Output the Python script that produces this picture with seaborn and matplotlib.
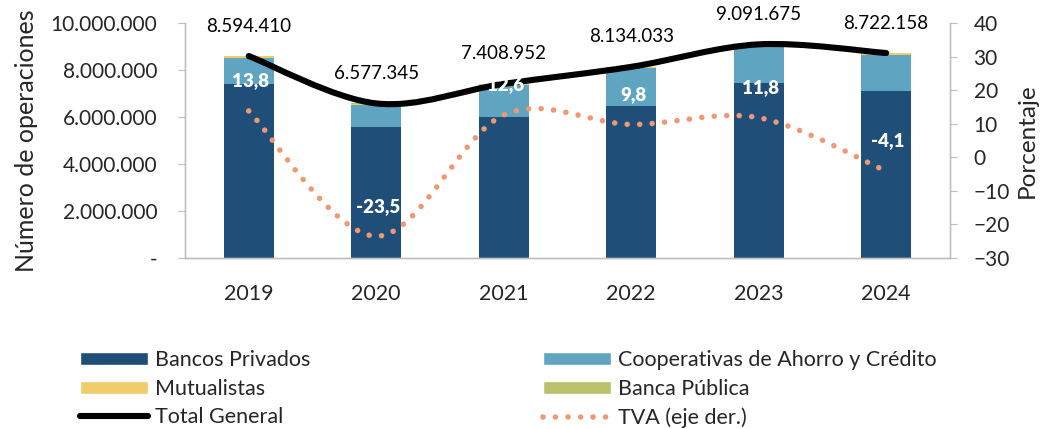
import numpy as np
import pandas as pd
import matplotlib
matplotlib.use("Agg")
import matplotlib.pyplot as plt
import seaborn as sns
from matplotlib.path import Path
from matplotlib.patches import PathPatch, Patch
from matplotlib.lines import Line2D
from matplotlib.ticker import FuncFormatter, FixedLocator

# ---------------- data ----------------
years = ["2019", "2020", "2021", "2022", "2023", "2024"]
bancos_privados = [7400000, 5570000, 6010000, 6470000, 7440000, 7110000]
cooperativas = [1114000, 954000, 1340000, 1605000, 1597000, 1542000]
mutualistas = [68000, 45000, 50000, 50000, 45000, 60000]
banca_publica = [12000, 8000, 9000, 9000, 9000, 10000]
total_general = [8594410, 6577345, 7408952, 8134033, 9091675, 8722158]
tva = [13.8, -23.5, 12.6, 9.8, 11.8, -4.1]
tva_labels = ["13,8", "-23,5", "12,6", "9,8", "11,8", "-4,1"]
left_ticks = [0, 2000000, 4000000, 6000000, 8000000, 10000000]
right_ticks = [-30, -20, -10, 0, 10, 20, 30, 40]

C_NAVY = "#1F4E79"
C_BLUE = "#5FA5C1"
C_YELLOW = "#EFCB6A"
C_OLIVE = "#BDC06A"
C_ORANGE = "#F09872"
C_GRAY = "#BFBFBF"

sns.set_style("white")
plt.rcParams["font.family"] = ["Lato", "DejaVu Sans"]

fig = plt.figure(figsize=(10.45, 4.29), dpi=100)
ax = fig.add_axes([0.177, 0.3986, 0.732, 0.5478])

df = pd.DataFrame({
    "year": years,
    "bp": bancos_privados,
    "coop": cooperativas,
    "mut": mutualistas,
    "pub": banca_publica,
})
df["c1"] = df["bp"]
df["c2"] = df["c1"] + df["coop"]
df["c3"] = df["c2"] + df["mut"]
df["c4"] = df["c3"] + df["pub"]

for col, color in [("c4", C_OLIVE), ("c3", C_YELLOW), ("c2", C_BLUE), ("c1", C_NAVY)]:
    sns.barplot(data=df, x="year", y=col, color=color, width=0.39, saturation=1,
                errorbar=None, order=years, ax=ax, edgecolor="none")


def smooth_path(xs, ys):
    xs = np.asarray(xs, float)
    ys = np.asarray(ys, float)
    n = len(xs)
    verts = [(xs[0], ys[0])]
    codes = [Path.MOVETO]
    for i in range(n - 1):
        a = i - 1 if i > 0 else i
        d = i + 2 if i + 2 < n else i + 1
        c1 = (xs[i] + (xs[i + 1] - xs[a]) / 6, ys[i] + (ys[i + 1] - ys[a]) / 6)
        c2 = (xs[i + 1] - (xs[d] - xs[i]) / 6, ys[i + 1] - (ys[d] - ys[i]) / 6)
        verts += [c1, c2, (xs[i + 1], ys[i + 1])]
        codes += [Path.CURVE4] * 3
    return Path(verts, codes)


xpos = np.arange(len(years))
ax.set_xlim(-0.5, len(years) - 0.5)
ax.set_ylim(0, 10000000)

# Total General line
tp = PathPatch(smooth_path(xpos, total_general), fill=False, edgecolor="black",
               lw=4.4, capstyle="round", zorder=5)
ax.add_patch(tp)
for x, v in zip(xpos, total_general):
    ax.annotate(f"{v:,}".replace(",", "."), (x, v), xytext=(0, 30),
                textcoords="offset pixels", ha="center", va="center",
                fontsize=13.5, color="black", zorder=6)

# right axis
ax2 = ax.twinx()
ax2.set_ylim(-30, 40)
ax2.set_xlim(-0.5, len(years) - 0.5)
dp = PathPatch(smooth_path(xpos, tva), fill=False, edgecolor=C_ORANGE, lw=4.0,
               linestyle=(0, (0.001, 2.25)), capstyle="round", zorder=4)
ax2.add_patch(dp)
for x, v, lab in zip(xpos, tva, tva_labels):
    ax2.annotate(lab, (x, v), xytext=(2, 30), textcoords="offset pixels",
                 ha="center", va="center", fontsize=13.5, fontweight="heavy",
                 color="white", zorder=7)

# axes styling
ax.yaxis.set_major_locator(FixedLocator(left_ticks))
ax.yaxis.set_major_formatter(FuncFormatter(
    lambda v, p: "-" if v == 0 else f"{int(v):,}".replace(",", ".")))
ax2.yaxis.set_major_locator(FixedLocator(right_ticks))

for a in (ax, ax2):
    for s in a.spines.values():
        s.set_color(C_GRAY)
        s.set_linewidth(1.0)
    a.spines["top"].set_visible(False)

ax.tick_params(axis="y", which="both", left=True, length=5, color=C_GRAY,
               labelsize=15, pad=15, direction="out")
ax.tick_params(axis="x", length=0, labelsize=15.5, pad=19)
ax2.tick_params(axis="y", right=True, length=5, color=C_GRAY, labelsize=15,
                pad=12, direction="out")
ax.set_xlabel("")
ax.set_ylabel("Número de operaciones", fontsize=18, labelpad=9)
ax2.set_ylabel("Porcentaje", fontsize=17.5, labelpad=5)
ax.grid(False)
ax2.grid(False)

# legend
handles = [
    Patch(facecolor=C_NAVY),
    Patch(facecolor=C_YELLOW),
    Line2D([0], [0], color="black", lw=4.4, solid_capstyle="round"),
    Patch(facecolor=C_BLUE),
    Patch(facecolor=C_OLIVE),
    Line2D([0], [0], color=C_ORANGE, lw=4.0, linestyle=(0, (0.001, 2.25)),
           dash_capstyle="round"),
]
labels = ["Bancos Privados", "Mutualistas", "Total General",
          "Cooperativas de Ahorro y Crédito", "Banca Pública", "TVA (eje der.)"]
fig.legend(handles, labels, ncol=2, loc="upper left",
           bbox_to_anchor=(0.0766, 0.184), frameon=False, fontsize=15.5,
           handlelength=3.16, handleheight=0.55, handletextpad=0.33,
           columnspacing=10.8, labelspacing=0.40, borderpad=0, borderaxespad=0)

fig.savefig("out.png", dpi=100)
